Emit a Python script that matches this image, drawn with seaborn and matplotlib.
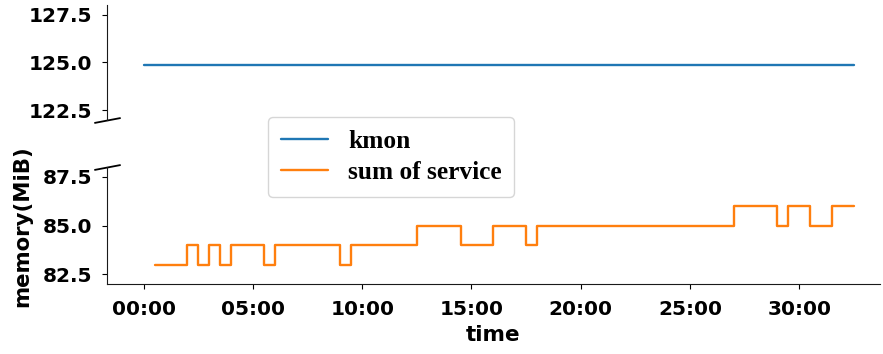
import matplotlib
matplotlib.use("Agg")
import pandas as pd
import matplotlib.pyplot as plt
import seaborn as sns
from matplotlib.ticker import FuncFormatter

# =====================================================
# DATA  (time in minutes, memory in MiB)
# =====================================================

kmon_time = [0.0, 32.5]
kmon_mem = [124.85, 124.85]

svc_time = [0.5, 2.0, 2.5, 3.0, 3.5, 4.0, 5.5, 6.0, 9.0, 9.5, 12.5,
            14.5, 16.0, 17.5, 18.0, 27.0, 29.0, 29.5, 30.5, 31.5, 32.5]
svc_mem = [83, 84, 83, 84, 83, 84, 83, 84, 83, 84, 85,
           84, 85, 84, 85, 86, 85, 86, 85, 86, 86]

series_names = ["kmon", "sum of service"]
xticks = [0, 5, 10, 15, 20, 25, 30]
top_yticks = [122.5, 125.0, 127.5]
bottom_yticks = [82.5, 85.0, 87.5]

df = pd.concat([
    pd.DataFrame({"time": kmon_time, "memory": kmon_mem, "series": series_names[0]}),
    pd.DataFrame({"time": svc_time, "memory": svc_mem, "series": series_names[1]}),
])

# =====================================================
# STYLE
# =====================================================

sns.set_style("ticks")
plt.rcParams["font.family"] = ["DejaVu Sans"]
plt.rcParams["font.weight"] = "bold"
plt.rcParams["axes.labelweight"] = "bold"
plt.rcParams["axes.edgecolor"] = "0.1"
plt.rcParams["text.color"] = "black"
plt.rcParams["axes.labelcolor"] = "black"
plt.rcParams["xtick.color"] = "black"
plt.rcParams["ytick.color"] = "black"
plt.rcParams["xtick.major.size"] = 3.5
plt.rcParams["ytick.major.size"] = 3.5
plt.rcParams["xtick.major.pad"] = 8
plt.rcParams["ytick.major.pad"] = 7

palette = {"kmon": "#1f77b4", "sum of service": "#ff7f0e"}

fig = plt.figure(figsize=(8.83, 3.54), dpi=100)
ax_top = fig.add_axes([0.1212, 0.661, 0.875, 0.325])
ax_bot = fig.add_axes([0.1212, 0.197, 0.875, 0.331], sharex=ax_top)

for ax in (ax_top, ax_bot):
    sns.lineplot(
        data=df,
        x="time",
        y="memory",
        hue="series",
        palette=palette,
        estimator=None,
        drawstyle="steps-post",
        linewidth=1.7,
        ax=ax,
        legend=(ax is ax_bot),
    )

ax_top.set_ylim(122, 128)
ax_bot.set_ylim(82, 88)
ax_bot.set_xlim(-1.68, 33.68)

ax_top.set_yticks(top_yticks)
ax_bot.set_yticks(bottom_yticks)
ax_bot.set_xticks(xticks)

fmt_y = FuncFormatter(lambda v, p: f"{v:.1f}")
ax_top.yaxis.set_major_formatter(fmt_y)
ax_bot.yaxis.set_major_formatter(fmt_y)
ax_bot.xaxis.set_major_formatter(FuncFormatter(lambda v, p: f"{int(v):02d}:00"))

for ax in (ax_top, ax_bot):
    ax.tick_params(labelsize=14.5)
    for lab in ax.get_xticklabels() + ax.get_yticklabels():
        lab.set_fontweight("bold")

# top axis: only the left spine
sns.despine(ax=ax_top, bottom=True)
ax_top.tick_params(axis="x", bottom=False, labelbottom=False)
ax_top.set_xlabel("")
ax_top.set_ylabel("")
sns.despine(ax=ax_bot)

ax_bot.set_xlabel("time", fontsize=15.5, fontweight="bold", labelpad=4)
ax_bot.set_ylabel("memory(MiB)", fontsize=15.3, fontweight="bold")
ax_bot.yaxis.set_label_coords(-0.097, 0.5)

# break marks on the left spine
brk = dict(marker=[(-1, -0.19), (1, 0.19)], markersize=19, linestyle="none",
           color="k", mec="k", mew=1.3, clip_on=False)
ax_top.plot([0], [0], transform=ax_top.transAxes, **brk)
ax_bot.plot([0], [1], transform=ax_bot.transAxes, **brk)

# legend
handles, labels = ax_bot.get_legend_handles_labels()
ax_bot.get_legend().remove()
fig.legend(
    handles,
    labels,
    loc="upper left",
    bbox_to_anchor=(0.3035, 0.669),
    borderaxespad=0,
    prop={"family": "Liberation Serif", "weight": "bold", "size": 18.3},
    borderpad=0.5,
    handlelength=1.85,
    handletextpad=0.8,
    labelspacing=0.33,
    frameon=True,
    edgecolor="0.8",
)

fig.savefig("out.png", dpi=100)
